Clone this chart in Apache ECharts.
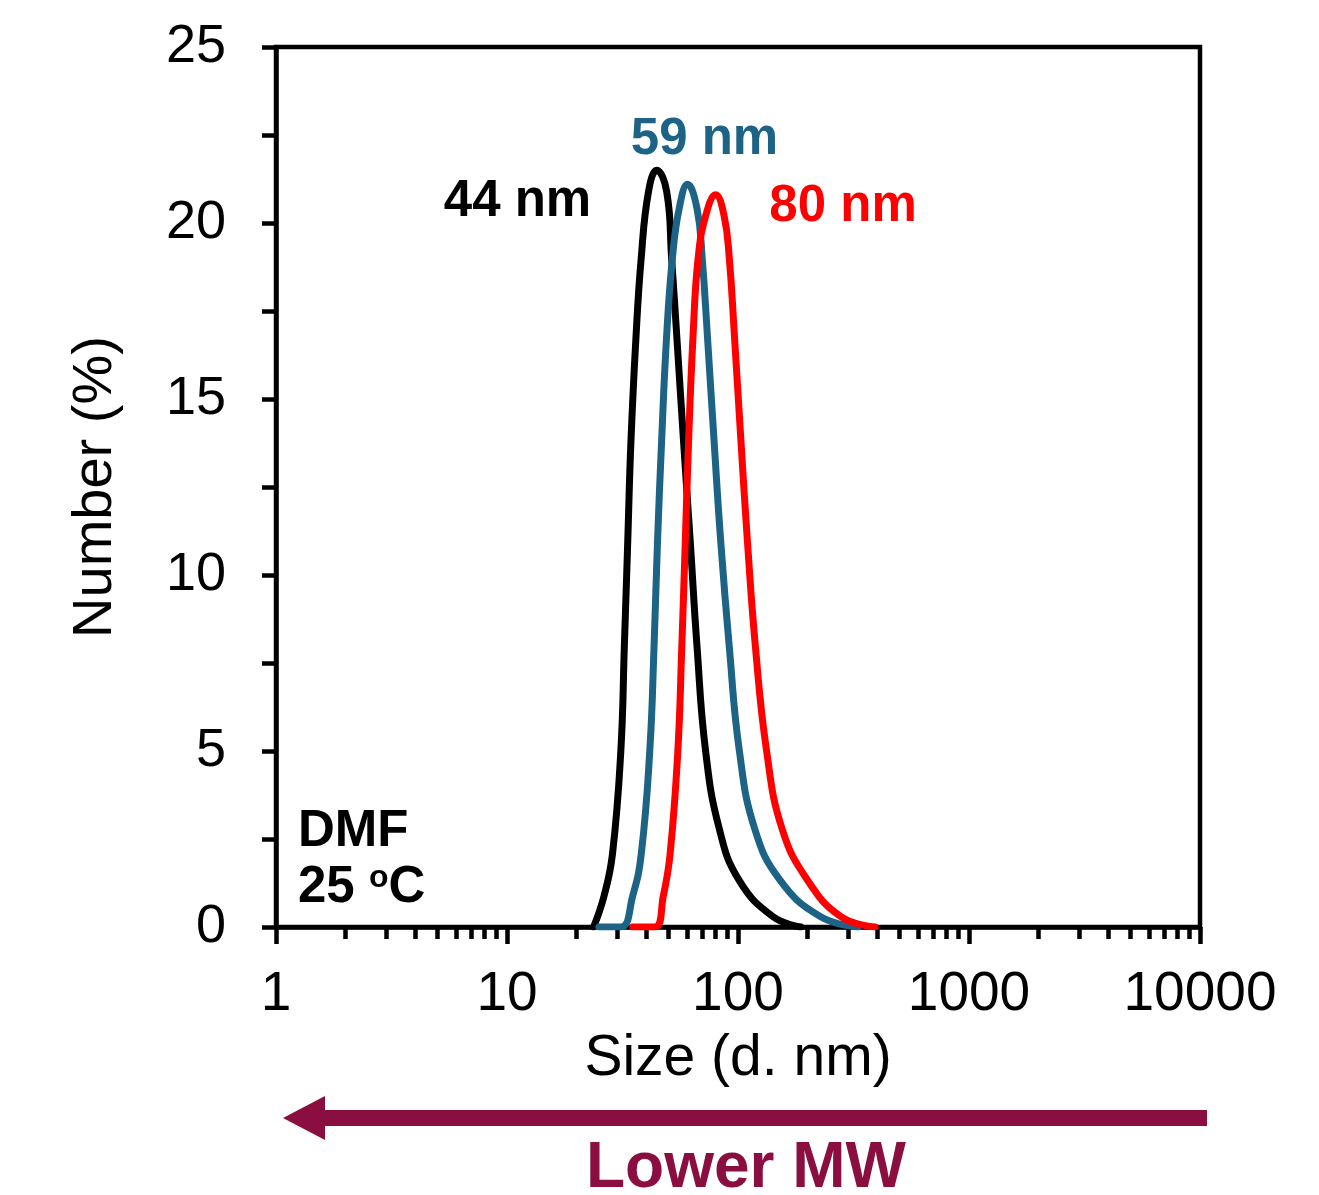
<!DOCTYPE html>
<html><head><meta charset="utf-8">
<script src="https://cdn.jsdelivr.net/npm/echarts@6/dist/echarts.min.js"></script>
<style>html,body{margin:0;padding:0;background:#fff}#c{width:1319px;height:1195px}</style>
</head><body><div id="c"></div>
<script>
// ---- data ----
const xTickLabels = [1, 10, 100, 1000, 10000];
const yTicks = [0, 5, 10, 15, 20, 25];
const minorXTicks = [2,3,4,5,6,7,8,9,20,30,40,50,60,70,80,90,200,300,400,500,600,700,800,900,2000,3000,4000,5000,6000,7000,8000,9000];

const size44 = [23.7, 26.3, 28.6, 31.1, 32.2, 33.3, 34.4, 36.2, 38.1, 41.0, 44.5, 49.1, 51.6, 54.3, 58.1, 62.2, 66.5, 72.4, 82.9, 101, 142, 187];
const num44  = [0, 0.88, 2.06, 5.0, 7.95, 10.9, 13.8, 16.8, 19.0, 20.9, 21.5, 20.9, 19.0, 16.8, 13.8, 10.9, 7.95, 5.0, 2.8, 1.33, 0.29, 0];

const size59 = [25, 31.1, 35.0, 38.1, 41.5, 43.3, 44.8, 46.7, 49.1, 52.0, 55.6, 60.5, 66.5, 70.0, 73.7, 78.8, 84.3, 91.7, 101.4, 118, 152, 228, 331];
const num59  = [0, 0, 0.88, 2.06, 5.0, 7.95, 10.9, 13.8, 16.8, 19.0, 20.4, 21.1, 20.4, 19.0, 16.8, 13.8, 10.9, 7.95, 5.0, 2.8, 1.33, 0.29, 0];

const size80 = [35, 43.6, 47.5, 50.8, 54.9, 57.1, 59.1, 61.1, 63.9, 67.2, 72.4, 80.0, 87.1, 91.7, 96.5, 103, 110, 119, 133, 155, 200, 280, 392];
const num80  = [0, 0, 0.88, 2.06, 5.0, 7.95, 10.9, 13.8, 16.8, 19.0, 20.2, 20.8, 20.2, 19.0, 16.8, 13.8, 10.9, 7.95, 5.0, 2.8, 1.33, 0.29, 0];

const seriesNames = ['44 nm', '59 nm', '80 nm'];
const seriesColors = ['#000000', '#1c6386', '#ff0000'];
const annotations = [
  { text: '44 nm', x: 11.1, y: 20.6, color: '#000000' },
  { text: '59 nm', x: 71.6, y: 22.36, color: '#1c6386' },
  { text: '80 nm', x: 285, y: 20.45, color: '#ff0000' }
];
// -------------------------------------

const FONT = '"Liberation Sans", Arial, sans-serif';
const pairs = (xs, ys) => xs.map((v, i) => [v, ys[i]]);
const chart = echarts.init(document.getElementById('c'), null, { renderer: 'canvas' });

function lineSeries(name, data, color) {
  return {
    name, type: 'line', xAxisIndex: 0, yAxisIndex: 0,
    data, showSymbol: false, symbol: 'none',
    smooth: 0.45,
    lineStyle: { color, width: 7, join: 'round', cap: 'round' },
    z: 5
  };
}

chart.setOption({
  animation: false,
  backgroundColor: '#ffffff',
  grid: { left: 276, right: 119, top: 47, bottom: 268, show: true, borderColor: '#000', borderWidth: 4.5, backgroundColor: 'transparent' },
  xAxis: [
    {
      type: 'log', logBase: 10, min: 1, max: 10000, position: 'bottom',
      axisLine: { show: true, onZero: false, lineStyle: { color: '#000', width: 4.5 } },
      axisTick: { show: true, inside: false, length: 17, lineStyle: { color: '#000', width: 4.5 }, customValues: xTickLabels },
      axisLabel: { show: true, margin: 40, fontFamily: FONT, fontSize: 55, color: '#000', customValues: xTickLabels, formatter: v => String(Math.round(v)) },
      splitLine: { show: false },
      name: 'Size (d. nm)', nameLocation: 'middle', nameGap: 104,
      nameTextStyle: { fontFamily: FONT, fontSize: 57, color: '#000' }
    },
    {
      type: 'log', logBase: 10, min: 1, max: 10000, position: 'bottom', offset: 0,
      axisLine: { show: false },
      axisTick: { show: true, inside: false, length: 12, lineStyle: { color: '#000', width: 4.5 }, customValues: minorXTicks },
      axisLabel: { show: false },
      splitLine: { show: false }
    }
  ],
  yAxis: {
    type: 'value', min: 0, max: 25, interval: 5,
    axisLine: { show: true, onZero: false, lineStyle: { color: '#000', width: 4.5 } },
    axisTick: { show: true, inside: false, length: 14, lineStyle: { color: '#000', width: 4.5 } },
    minorTick: { show: true, splitNumber: 2, length: 14, lineStyle: { color: '#000', width: 4.5 } },
    axisLabel: { margin: 50, fontFamily: FONT, fontSize: 54, color: '#000' },
    splitLine: { show: false }, minorSplitLine: { show: false },
    name: 'Number (%)', nameLocation: 'middle', nameGap: 152,
    nameTextStyle: { fontFamily: FONT, fontSize: 56, color: '#000' }
  },
  series: [
    lineSeries(seriesNames[0], pairs(size44, num44), seriesColors[0]),
    lineSeries(seriesNames[1], pairs(size59, num59), seriesColors[1]),
    lineSeries(seriesNames[2], pairs(size80, num80), seriesColors[2])
  ]
});

const toPx = (x, y) => chart.convertToPixel({ xAxisIndex: 0, yAxisIndex: 0 }, [x, y]);
const graphics = [];
annotations.forEach(a => {
  const p = toPx(a.x, a.y);
  graphics.push({
    type: 'text', x: p[0], y: p[1], z: 10,
    style: { text: a.text, fill: a.color, font: 'bold 51px ' + FONT, textAlign: 'center', textVerticalAlign: 'middle' }
  });
});
const pD = toPx(1.245, 2.7);
graphics.push({ type: 'text', x: pD[0], y: pD[1], z: 10,
  style: { text: 'DMF', fill: '#000', font: 'bold 51px ' + FONT, textAlign: 'left', textVerticalAlign: 'middle' } });
const pT = toPx(1.245, 1.1);
graphics.push({ type: 'text', x: pT[0], y: pT[1], z: 10,
  style: {
    text: '{n|25 }{sup|o}{n|C}', textAlign: 'left', textVerticalAlign: 'middle',
    rich: {
      n: { fontFamily: FONT, fontWeight: 'bold', fontSize: 51, lineHeight: 52, fill: '#000' },
      sup: { fontFamily: FONT, fontWeight: 'bold', fontSize: 32, lineHeight: 30, verticalAlign: 'top', fill: '#000' }
    }
  } });

// arrow and "Lower MW" below the chart
const arrowColor = '#8a0e40';
graphics.push({ type: 'rect', shape: { x: 322, y: 1110, width: 885, height: 16 }, style: { fill: arrowColor }, z: 10 });
graphics.push({ type: 'polygon', shape: { points: [[283, 1118], [325, 1096], [325, 1140]] }, style: { fill: arrowColor }, z: 10 });
graphics.push({ type: 'text', x: 746, y: 1169, z: 10,
  style: { text: 'Lower MW', fill: arrowColor, font: 'bold 64px ' + FONT, textAlign: 'center', textVerticalAlign: 'middle' } });

chart.setOption({ graphic: graphics });
</script>
</body></html>
